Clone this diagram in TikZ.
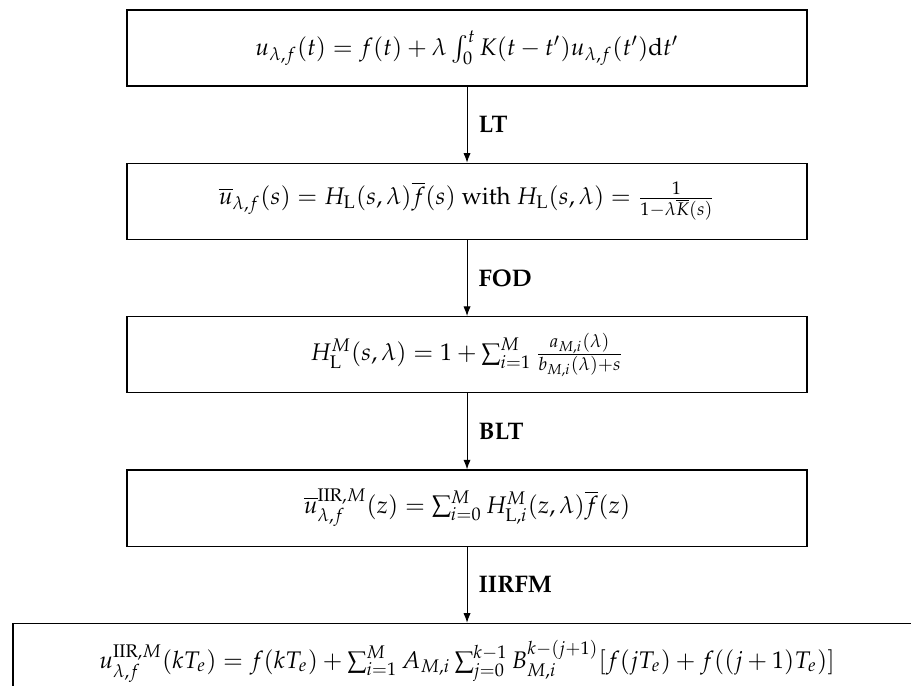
\documentclass[tikz,border=0pt]{standalone}
\usepackage[T1]{fontenc}
\usepackage{amsmath}
\usepackage{mathpazo}
\usetikzlibrary{arrows.meta,positioning}

\begin{document}
\begin{tikzpicture}[
  every node/.style={font=\normalsize},
  eqbox/.style={
    draw, line width=0.5pt,
    minimum width=283.3pt, minimum height=31.7pt, inner sep=2pt
  },
  widebox/.style={eqbox, minimum width=378.3pt},
  flow/.style={-{Latex[length=4pt, width=3pt]}, line width=0.4pt},
  steplabel/.style={midway, right, font=\bfseries, xshift=1.3pt}
]
  \useasboundingbox (0,0) rectangle (379.6pt,-285.8pt);

  % Chain of formulations
  \node[eqbox] (ie) at (194.6pt,-20pt)
    {$u_{\lambda,f}(t) = f(t) + \lambda \int_0^t K(t-t')u_{\lambda,f}(t')\mathrm{d}t'$};
  \node[eqbox, below=31.7pt of ie] (lap)
    {$\overline{u}_{\lambda,f}(s) = H_{\mathrm{L}}(s,\lambda)\overline{f}(s)$ with $H_{\mathrm{L}}(s,\lambda) = \frac{1}{1-\lambda\overline{K}(s)}$};
  \node[eqbox, below=31.7pt of lap] (frac)
    {$H_{\mathrm{L}}^{M}(s,\lambda) = 1 + \sum_{i=1}^{M} \frac{a_{M,i}(\lambda)}{b_{M,i}(\lambda)+s}$};
  \node[eqbox, below=31.7pt of frac] (ztr)
    {$\overline{u}_{\lambda,f}^{\mathrm{IIR},M}(z) = \sum_{i=0}^{M} H_{\mathrm{L},i}^{M}(z,\lambda)\overline{f}(z)$};
  \node[widebox, below=31.7pt of ztr] (rec)
    {$u_{\lambda,f}^{\mathrm{IIR},M}(kT_e) = f(kT_e) + \sum_{i=1}^{M} A_{M,i}\sum_{j=0}^{k-1} B_{M,i}^{k-(j+1)}[f(jT_e)+f((j+1)T_e)]$};

  % Transformations
  \draw[flow] (ie) -- node[steplabel] {LT} (lap);
  \draw[flow] (lap) -- node[steplabel] {FOD} (frac);
  \draw[flow] (frac) -- node[steplabel] {BLT} (ztr);
  \draw[flow] (ztr) -- node[steplabel] {IIRFM} (rec);

\end{tikzpicture}
\end{document}
